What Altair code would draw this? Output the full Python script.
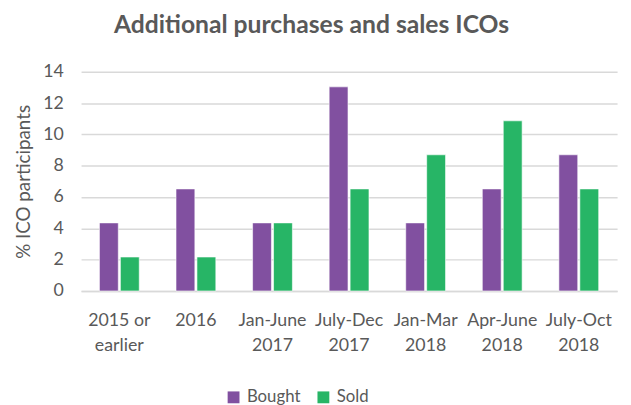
import altair as alt
import pandas as pd

categories = ["2015 or|earlier", "2016", "Jan-June|2017", "July-Dec|2017",
              "Jan-Mar|2018", "Apr-June|2018", "July-Oct|2018"]
bought = [4.35, 6.52, 4.35, 13.04, 4.35, 6.52, 8.70]
sold = [2.17, 2.17, 4.35, 6.52, 8.70, 10.87, 6.52]
series = ["Bought", "Sold"]
colors = ["#8150A0", "#27B566"]

rows = []
for c, b, s in zip(categories, bought, sold):
    rows.append({"cat": c, "series": "Bought", "value": b})
    rows.append({"cat": c, "series": "Sold", "value": s})
df = pd.DataFrame(rows)

FONT = "Lato"
GREY = "#595959"

chart = alt.Chart(df).mark_bar(stroke="white", strokeWidth=0.6).encode(
    x=alt.X("cat:N", sort=categories, title=None,
            scale=alt.Scale(paddingInner=0.48, paddingOuter=0.24),
            axis=alt.Axis(labelExpr="split(datum.label, '|')", labelAngle=0,
                          labelFontSize=18, labelColor=GREY, labelFont=FONT,
                          labelPadding=21, labelLineHeight=25, ticks=False,
                          domainColor="#D9D9D9", domainWidth=1.5)),
    xOffset=alt.XOffset("series:N", sort=series, scale=alt.Scale(paddingInner=0.1)),
    y=alt.Y("value:Q", title="% ICO participants",
            scale=alt.Scale(domain=[0, 14]),
            axis=alt.Axis(values=[0, 2, 4, 6, 8, 10, 12, 14], labelFontSize=18,
                          labelColor=GREY, labelFont=FONT, labelPadding=18,
                          ticks=False, domain=False, gridColor="#D9D9D9",
                          gridWidth=1.5, titleFont=FONT, titleFontSize=19,
                          titleFontWeight="normal", titleColor=GREY, titlePadding=9)),
    color=alt.Color("series:N", sort=series,
                    scale=alt.Scale(domain=series, range=colors),
                    legend=alt.Legend(title=None, orient="none", direction="horizontal",
                                      legendX=146, legendY=321, symbolType="square",
                                      symbolSize=144, symbolStrokeWidth=0,
                                      labelFont=FONT, labelFontSize=17, labelColor=GREY,
                                      columnPadding=14, labelOffset=5)),
).properties(
    width=543, height=222,
    title=alt.TitleParams("Additional purchases and sales ICOs", font=FONT,
                          fontSize=25, fontWeight="bold", color=GREY,
                          anchor="middle", dx=-38, offset=25),
    autosize=alt.AutoSizeParams(type="none"),
    padding={"left": 74, "top": 62, "right": 6, "bottom": 125},
).configure_view(stroke=None)

chart.save("out.html", embed_options={"renderer": "svg", "actions": False})
